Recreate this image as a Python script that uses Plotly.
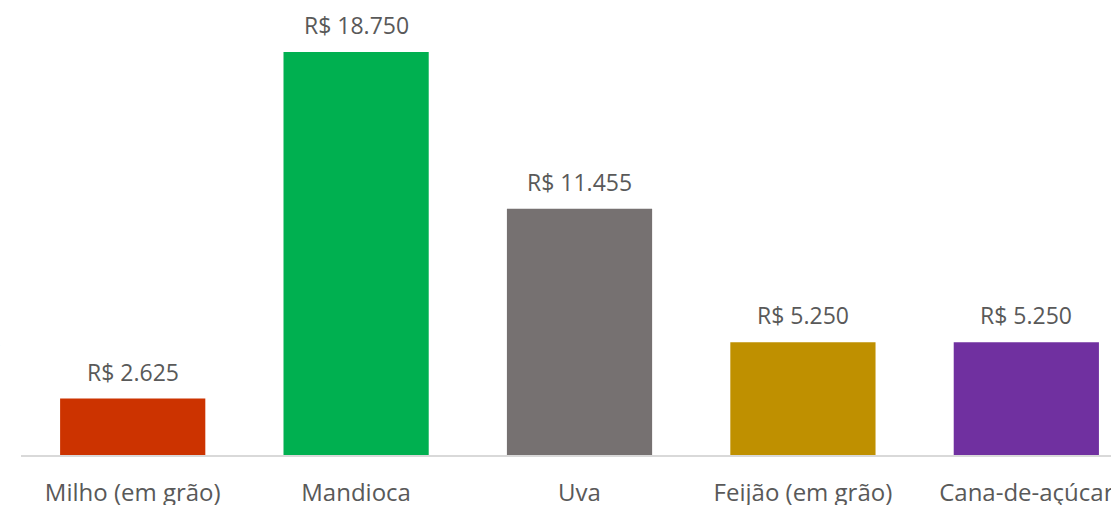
import plotly.graph_objects as go

categories = ["Milho (em grão)", "Mandioca", "Uva", "Feijão (em grão)", "Cana-de-açúcar"]
values = [2625, 18750, 11455, 5250, 5250]
colors = ["#CC3300", "#00B050", "#767171", "#BF9000", "#7030A0"]

def fmt(v):
    return "R$ " + f"{v:,}".replace(",", ".")

labels = [fmt(v) for v in values]

FONT = "Open Sans, sans-serif"
GRAY = "#595959"

fig = go.Figure(go.Bar(
    x=categories, y=values, marker=dict(color=colors, line=dict(width=0)),
    width=0.65, hoverinfo="skip",
))

for c, v, t in zip(categories, values, labels):
    fig.add_annotation(x=c, y=v, text=t, showarrow=False, yanchor="bottom",
                       yshift=9, font=dict(family=FONT, size=23, color=GRAY))

fig.add_annotation(xref="paper", yref="paper", x=(3 - 21) / 1090, y=(455 - 341) / 455,
                   xanchor="right", yanchor="middle", text="8", showarrow=False,
                   font=dict(family=FONT, size=22, color=GRAY))

fig.update_layout(
    width=1111, height=505,
    margin=dict(l=21, r=0, t=0, b=50),
    paper_bgcolor="white", plot_bgcolor="white",
    showlegend=False,
    xaxis=dict(range=[-0.5, 4.379], showline=True, linecolor="#D9D9D9", linewidth=2,
               showgrid=False, ticks="", ticklabelstandoff=15, automargin=False,
               tickfont=dict(family=FONT, size=24, color=GRAY)),
    yaxis=dict(range=[0, 21170], visible=False, showgrid=False, automargin=False),
)

fig.write_html("out.html", config={"displayModeBar": False},
               post_script="document.body.style.margin='0';document.body.style.overflow='hidden';")
